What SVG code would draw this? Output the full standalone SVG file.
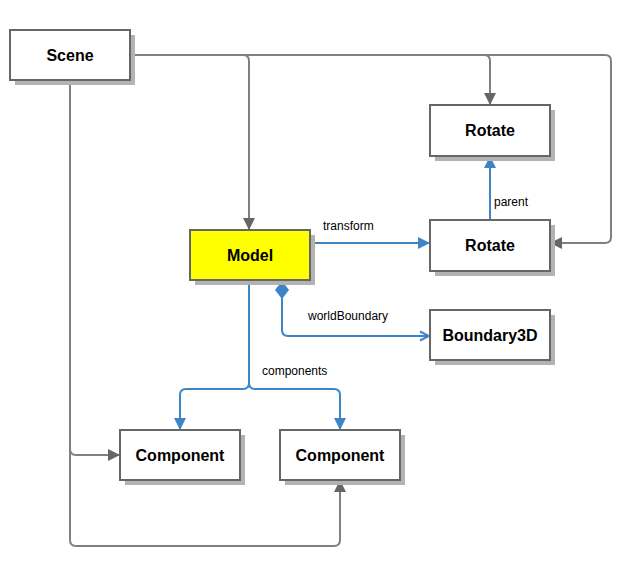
<svg xmlns="http://www.w3.org/2000/svg" width="636" height="571" viewBox="0 0 636 571">
<style>
.box{stroke:#666666;stroke-width:2;fill:#ffffff}
.sh{fill:#b3b3b3}
.lbl{font-family:"Liberation Sans",Arial,sans-serif;font-size:16px;font-weight:bold;fill:#000;text-anchor:middle}
.el{font-family:"Liberation Sans",Arial,sans-serif;font-size:12px;fill:#000}
.g{fill:none;stroke:#808080;stroke-width:2}
.b{fill:none;stroke:#3d85c6;stroke-width:2}
</style>
<defs>
<marker id="ag" markerWidth="12" markerHeight="12" viewBox="0 0 12 12" refX="11" refY="6" orient="auto" markerUnits="userSpaceOnUse"><path d="M0,0 L12,6 L0,12 z" fill="#666666"/></marker>
<marker id="ab" markerWidth="12" markerHeight="12" viewBox="0 0 12 12" refX="11" refY="6" orient="auto" markerUnits="userSpaceOnUse"><path d="M0,0 L12,6 L0,12 z" fill="#3d85c6"/></marker>
<marker id="ao" markerWidth="12" markerHeight="12" viewBox="0 0 12 12" refX="11" refY="6" orient="auto" markerUnits="userSpaceOnUse"><path d="M2,1.5 L11,6 L2,10.5" fill="none" stroke="#3d85c6" stroke-width="2"/></marker>
<marker id="dm" markerWidth="20" markerHeight="14" viewBox="0 0 20 14" refX="0" refY="7" orient="auto" markerUnits="userSpaceOnUse"><path d="M0,7 L9,0 L18,7 L9,14 z" fill="#3d85c6"/></marker>
</defs>
<g id="connectors">
<path class="g" d="M130,55 H484 Q490,55 490,61 V104" marker-end="url(#ag)"/>
<path class="g" d="M130,55 H243 Q249,55 249,61 V229" marker-end="url(#ag)"/>
<path class="g" d="M130,55 H605 Q611,55 611,61 V237 Q611,243 605,243 H551" marker-end="url(#ag)"/>
<path class="g" d="M70,80 V449 Q70,455 76,455 H119" marker-end="url(#ag)"/>
<path class="g" d="M70,80 V540 Q70,546 76,546 H334 Q340,546 340,540 V481" marker-end="url(#ag)"/>
<path class="b" d="M310,243 H429" marker-end="url(#ab)"/>
<path class="b" d="M490,220 V157" marker-end="url(#ab)"/>
<path class="b" d="M282,281 V330 Q282,336 288,336 H429" marker-start="url(#dm)" marker-end="url(#ao)"/>
<path class="b" d="M249,280 V383 Q249,389 243,389 H186 Q180,389 180,395 V429" marker-end="url(#ab)"/>
<path class="b" d="M249,383 Q249,389 255,389 H334 Q340,389 340,395 V429" marker-end="url(#ab)"/>
<text class="el" x="323" y="230">transform</text>
<text class="el" x="494" y="206">parent</text>
<text class="el" x="308" y="320">worldBoundary</text>
<text class="el" x="262" y="375">components</text>
</g>
<g id="scene"><rect class="sh" x="15" y="35" width="120" height="50"/><rect class="box" x="10" y="30" width="120" height="50"/><text class="lbl" x="70" y="61">Scene</text></g>
<g id="rotate1"><rect class="sh" x="435" y="110" width="120" height="51"/><rect class="box" x="430" y="105" width="120" height="51"/><text class="lbl" x="490" y="136">Rotate</text></g>
<g id="rotate2"><rect class="sh" x="435" y="225" width="120" height="51"/><rect class="box" x="430" y="220" width="120" height="51"/><text class="lbl" x="490" y="251">Rotate</text></g>
<g id="model"><rect class="sh" x="195" y="235" width="120" height="50"/><rect class="box" x="190" y="230" width="120" height="50" style="fill:#ffff00"/><text class="lbl" x="250" y="261">Model</text></g>
<g id="boundary3d"><rect class="sh" x="435" y="315" width="120" height="50"/><rect class="box" x="430" y="310" width="120" height="50"/><text class="lbl" x="490" y="341">Boundary3D</text></g>
<g id="component1"><rect class="sh" x="125" y="435" width="120" height="50"/><rect class="box" x="120" y="430" width="120" height="50"/><text class="lbl" x="180" y="461">Component</text></g>
<g id="component2"><rect class="sh" x="285" y="435" width="120" height="50"/><rect class="box" x="280" y="430" width="120" height="50"/><text class="lbl" x="340" y="461">Component</text></g>
</svg>
